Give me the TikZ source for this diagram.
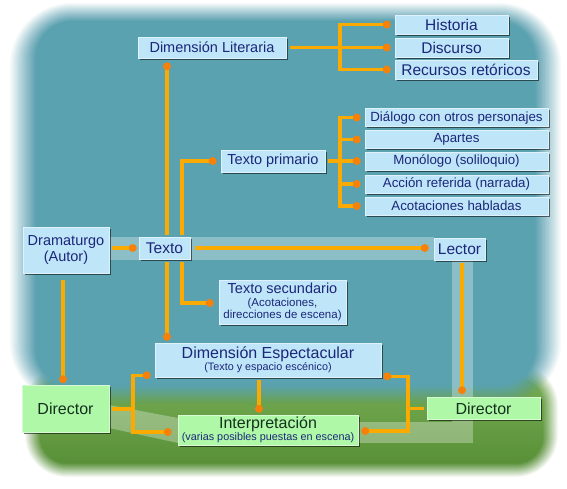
\documentclass[tikz,border=0pt]{standalone}
\usepackage{fontspec}
\setmainfont{Liberation Sans}
\usetikzlibrary{calc,shadows}
\definecolor{tealbg}{RGB}{90,162,176}
\definecolor{grassA}{RGB}{118,172,84}
\definecolor{grassB}{RGB}{88,144,56}
\definecolor{boxblue}{RGB}{190,229,248}
\definecolor{boxgreen}{RGB}{174,248,168}
\definecolor{navy}{RGB}{28,38,122}
\definecolor{darkg}{RGB}{22,48,30}
\definecolor{lineor}{RGB}{250,170,0}
\definecolor{dotor}{RGB}{245,128,10}
\newcommand\myfA{\fontsize{14.5}{16}\selectfont}
\newcommand\myfB{\fontsize{15.5}{17}\selectfont}
\newcommand\myfC{\fontsize{13.3}{15}\selectfont}
\newcommand\myfD{\fontsize{16}{18}\selectfont}
\newcommand\myfS{\fontsize{11.5}{12}\selectfont}
\newcommand\myfT{\fontsize{10.8}{12}\selectfont}
\pgfdeclarelayer{bg}
\pgfdeclarelayer{mid}
\pgfsetlayers{bg,mid,main}
\begin{document}
\begin{tikzpicture}[x=1pt,y=-1pt,
  bbox/.style={draw=boxblue!50!white, line width=0.5pt, fill=boxblue, text=navy,
    inner sep=0pt, align=center,
    drop shadow={shadow xshift=1.6pt,shadow yshift=-1.6pt,opacity=0.55,fill=black}},
  gbox/.style={bbox, fill=boxgreen, draw=boxgreen!50!white, text=darkg},
  conn/.style={draw=lineor, line width=3.2pt},
  dot/.style={circle, fill=dotor, inner sep=0pt, minimum size=8pt},
  band/.style={fill=white, fill opacity=0.3}]
\useasboundingbox (0,0) rectangle (567,488);

% ---- nodes ----
\node[bbox, minimum width=148pt, minimum height=21pt, font=\myfA] (dimlit) at (212,47.5) {Dimensión Literaria};
\node[bbox, minimum width=113pt, minimum height=19pt, font=\myfB] (hist) at (451.5,24.5) {Historia};
\node[bbox, minimum width=113pt, minimum height=19pt, font=\myfB] (disc) at (451.5,47.5) {Discurso};
\node[bbox, minimum width=142pt, minimum height=19pt, font=\myfB] (recur) at (466,69.5) {Recursos retóricos};
\node[bbox, minimum width=104pt, minimum height=22pt, font=\myfA] (tprim) at (273,161) {Texto primario};
\node[bbox, minimum width=183pt, minimum height=18pt, font=\myfC] (dial) at (456.5,117.5) {Diálogo con otros personajes};
\node[bbox, minimum width=183pt, minimum height=18pt, font=\myfC] (apar) at (456.5,139.5) {Apartes};
\node[bbox, minimum width=183pt, minimum height=18pt, font=\myfC] (mono) at (456.5,161) {Monólogo (soliloquio)};
\node[bbox, minimum width=183pt, minimum height=18pt, font=\myfC] (acc) at (456.5,184) {Acción referida (narrada)};
\node[bbox, minimum width=183pt, minimum height=18pt, font=\myfC] (acot) at (456.5,206) {Acotaciones habladas};
\node[bbox, minimum width=86pt, minimum height=46pt, font=\myfA] (dram) at (66,250) {Dramaturgo\\(Autor)};
\node[bbox, minimum width=51pt, minimum height=22pt, font=\myfB] (texto) at (164.5,248) {Texto};
\node[bbox, minimum width=51pt, minimum height=22pt, font=\myfB] (lector) at (459.5,249) {Lector};
\node[bbox, minimum width=127pt, minimum height=44pt, font=\myfS] (tsec) at (282.5,302)
  {{\myfA Texto secundario}\\[1pt](Acotaciones,\\direcciones de escena)};
\node[bbox, minimum width=226pt, minimum height=34pt, font=\myfT] (dimesp) at (268,360)
  {{\myfD Dimensión Espectacular}\\(Texto y espacio escénico)};
\node[gbox, minimum width=180pt, minimum height=30pt, font=\myfT] (interp) at (268,430)
  {{\myfD Interpretación}\\{\color{navy}(varias posibles puestas en escena)}};
\node[gbox, minimum width=87pt, minimum height=47pt, font=\myfD] (dirL) at (65.5,409) {Director};
\node[gbox, minimum width=113pt, minimum height=22pt, font=\myfD] (dirR) at (483.5,408.5) {Director};

% ---- column coordinates ----
\coordinate (cA) at (167,0);
\coordinate (cB) at (182,0);
\coordinate (cL) at (462,0);
\coordinate (cD) at (63,0);
\coordinate (cI) at (259,0);
\coordinate (t1) at (340,0);
\coordinate (tl) at (133,0);
\coordinate (trr) at (408,0);

% ---- background ----
\begin{pgfonlayer}{bg}
\fill[white] (0,0) rectangle (567,488);
% grass, soft edges (linear ramp of opacity)
\foreach \i [evaluate=\i as \r using 42-\i*1.0, evaluate=\i as \dx using \i*1.0,
             evaluate=\i as \dy using \i*0.9,
             evaluate=\i as \a using 1/(16-\i)] in {0,...,15}
  \shade[top color=grassA, bottom color=grassB, fill opacity=\a, rounded corners=\r pt]
    ({25+\dx},{364+\dy}) rectangle ({558-\dx},{477-\dy});
% sky, soft edges
\foreach \i [evaluate=\i as \r using 62-\i*1.3, evaluate=\i as \dx using \i*1.35,
             evaluate=\i as \dy using \i*0.95,
             evaluate=\i as \a using 1/(20-\i)] in {0,...,19}
  \fill[tealbg, fill opacity=\a, rounded corners=\r pt]
    ({10+\dx},{3+\dy}) rectangle ({561-\dx},{404-\dy});
% translucent flow bands
\fill[band] (dram.east |- texto.north) rectangle (lector.south west);
\fill[band] ($(lector.south)+(-7.5,0)$) rectangle (473,443);
\fill[band] (interp.east |- 0,422) rectangle (452,443);
\fill[band] (109,405) -- (178,418) -- (178,443) -- (109,428) -- cycle;
\end{pgfonlayer}

% ---- connectors ----
\begin{pgfonlayer}{mid}
% Dimension literaria bracket
\draw[conn] ($(hist.west)+(-8,0)$) node[dot]{} -| (t1 |- recur.west) -- ($(recur.west)+(-8,0)$) node[dot]{};
\draw[conn] ($(dimlit.east)+(4,0)$) -- ($(disc.west)+(-8,0)$) node[dot]{};
% Texto primario bracket
\draw[conn] ($(dial.west)+(-8,0)$) node[dot]{} -| (t1 |- acot.west) -- ($(acot.west)+(-8,0)$) node[dot]{};
\draw[conn] ($(tprim.east)+(3,0)$) -- ($(mono.west)+(-8,0)$) node[dot]{};
\draw[conn] (t1 |- apar.west) -- ($(apar.west)+(-8,0)$) node[dot]{};
\draw[conn] (t1 |- acc.west) -- ($(acc.west)+(-8,0)$) node[dot]{};
% Dimension literaria -> Dimension espectacular (behind Texto)
\draw[conn] ($(dimlit.south -| cA)+(0,8)$) node[dot]{} -- ($(texto.north -| cA)+(0,-2)$);
\draw[conn] ($(texto.south -| cA)+(0,3)$) -- ($(dimesp.north -| cA)+(0,-6)$) node[dot]{};
% Texto -> primario / secundario
\draw[conn] ($(texto.north -| cB)+(0,-2)$) |- ($(tprim.west)+(-8,0)$) node[dot]{};
\draw[conn] ($(texto.south -| cB)+(0,3)$) |- ($(tsec.west)+(-9,1)$) node[dot]{};
% Dramaturgo -> Texto -> Lector
\draw[conn] ($(dram.east |- texto.west)+(3,0)$) -- ($(texto.west)+(-6,0)$) node[dot]{};
\draw[conn] ($(texto.east)+(5,0)$) -- ($(texto.east -| lector.west)+(-9,0)$) node[dot]{};
% Lector -> Director (right)
\draw[conn] ($(lector.south -| cL)+(0,3)$) -- ($(dirR.north -| cL)+(0,-7)$) node[dot]{};
% Dramaturgo -> Director (left)
\draw[conn] ($(dram.south -| cD)+(0,7)$) -- ($(dirL.north -| cD)+(0,-6)$) node[dot]{};
% left bracket
\coordinate (iL) at ($(interp.west)+(-10,2)$);
\draw[conn] ($(dimesp.south west)+(-8,-2)$) node[dot]{} -| (tl |- iL) -- (iL) node[dot]{};
\draw[conn] ($(dirL.east)+(3,0)$) -- (tl |- dirL.east);
% right bracket
\coordinate (iR) at ($(interp.east)+(7,1)$);
\draw[conn] ($(dimesp.south east)+(6,-1)$) node[dot]{} -| (trr |- iR) -- (iR) node[dot]{};
\draw[conn] ($(dirR.west)+(-3,0)$) -- (trr |- dirR.west);
% Dimension espectacular -> Interpretacion
\draw[conn] ($(dimesp.south -| cI)+(0,3)$) -- ($(interp.north -| cI)+(0,-6)$) node[dot]{};
\end{pgfonlayer}
\end{tikzpicture}
\end{document}
